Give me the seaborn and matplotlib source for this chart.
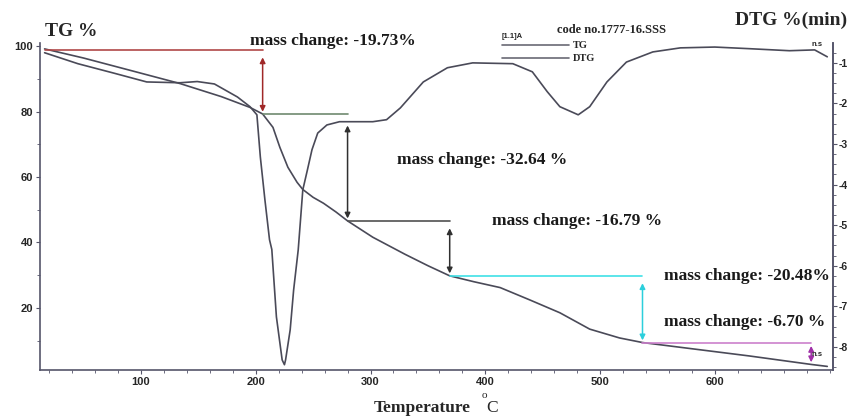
import matplotlib
matplotlib.use("Agg")
import matplotlib.pyplot as plt
from matplotlib.ticker import MultipleLocator
import seaborn as sns

# TG curve (mass %)
tg_temp = [16, 50, 91, 134, 170, 195, 206, 215, 221, 228, 236, 241, 250, 259, 270,
           280, 302, 330, 350, 369, 390, 413, 439, 465, 491, 517, 537, 580, 630, 684, 698]
tg_val = [99.2, 96.4, 92.6, 88.6, 84.6, 81.3, 79.3, 75.2, 69.1, 63.0, 58.4, 56.2, 53.8, 52.0, 49.3,
          46.6, 41.6, 36.4, 32.9, 29.8, 28.0, 26.2, 22.4, 18.5, 13.5, 10.8, 9.4, 7.5, 5.3, 2.7, 2.1]

# DTG curve (%/min)
dtg_temp = [16, 45, 76, 105, 134, 149, 164, 184, 195, 201, 204, 208, 212, 214, 218, 223, 225,
            226, 230, 233, 237, 241, 245, 249, 254, 262, 273, 288, 302, 314, 326, 346, 367, 389,
            424, 441, 454, 465, 481, 491, 506, 523, 546, 570, 600, 630, 665, 687, 698]
dtg_val = [-0.75, -1.02, -1.25, -1.47, -1.49, -1.46, -1.52, -1.84, -2.08, -2.28, -3.32, -4.38,
           -5.36, -5.6, -7.26, -8.32, -8.44, -8.32, -7.58, -6.60, -5.61, -4.13, -3.64, -3.14,
           -2.73, -2.53, -2.45, -2.45, -2.45, -2.40, -2.11, -1.47, -1.12, -1.0, -1.02, -1.22,
           -1.71, -2.08, -2.28, -2.08, -1.47, -0.98, -0.73, -0.63, -0.61, -0.65, -0.70, -0.68, -0.85]

# mass change steps: start temp, end temp, level before, level after
step_start = [16, 206, 280, 369, 537]
step_end = [206, 280, 369, 537, 684]
step_level = [99.0, 79.27, 46.63, 29.84, 9.36, 2.66]
step_label = ["mass change: -19.73%", "mass change: -32.64 %", "mass change: -16.79 %",
              "mass change: -20.48%", "mass change: -6.70 %"]
step_hline = ["#b04848", "#6f8a6f", "#505050", "#3fe0e6", "#cc80cc"]
step_arrow = ["#a02828", "#303030", "#303030", "#2ccfdc", "#a030a8"]
label_pos = [(195, 101.7), (323, 65.1), (406, 46.7), (556, 29.7), (556, 15.6)]

curve_col = "#4a4a58"
axis_col = "#55556a"

sns.set_style("ticks")
plt.rcParams["font.family"] = ["Liberation Serif", "DejaVu Serif"]
plt.rcParams["font.weight"] = "bold"
plt.rcParams["axes.unicode_minus"] = False

fig = plt.figure(figsize=(8.5, 4.18), dpi=100)
ax = fig.add_axes([40 / 850, 1 - 370 / 418, (833 - 40) / 850, (370 - 43) / 418])
ax2 = ax.twinx()

sns.lineplot(x=tg_temp, y=tg_val, ax=ax, color=curve_col, lw=1.2)
sns.lineplot(x=dtg_temp, y=dtg_val, ax=ax2, color=curve_col, lw=1.2)

ax.set_xlim(12, 703)
ax.set_ylim(1, 101)
ax2.set_ylim(-8.57, -0.51)
ax.set_xlabel("")
ax.set_ylabel("")
ax2.set_ylabel("")

ax.xaxis.set_minor_locator(MultipleLocator(20))
ax.yaxis.set_minor_locator(MultipleLocator(10))
ax2.yaxis.set_minor_locator(MultipleLocator(0.25))
ax.set_xticks([100, 200, 300, 400, 500, 600])
ax.set_yticks([20, 40, 60, 80, 100])
ax2.set_yticks([-1, -2, -3, -4, -5, -6, -7, -8])

for a in (ax, ax2):
    a.spines["top"].set_visible(False)
    for s in a.spines.values():
        s.set_color(axis_col)
        s.set_linewidth(1.2)
    a.tick_params(which="both", direction="out", color=axis_col, labelsize=8, pad=2)
    a.tick_params(which="major", length=3)
    a.tick_params(which="minor", length=2)
    for lab in a.get_xticklabels() + a.get_yticklabels():
        lab.set_family(["Liberation Sans", "DejaVu Sans"])
        lab.set_fontweight("bold")
ax2.spines["left"].set_visible(False)
ax2.spines["bottom"].set_visible(False)
ax2.tick_params(axis="y", labelsize=7.5, pad=1)

# mass change guides
top_gap = [2.4, 3.5, 2.3, 2.3, 1.0]
for i in range(len(step_start)):
    t0, t1 = step_start[i], step_end[i]
    hi, lo = step_level[i], step_level[i + 1]
    ax.plot([t0, t1], [hi, hi], color=step_hline[i], lw=1.2)
    ax.annotate("", xy=(t1, lo + 0.7), xytext=(t1, hi - top_gap[i]),
                arrowprops=dict(arrowstyle="<|-|>", color=step_arrow[i], lw=1.1,
                                mutation_scale=8, shrinkA=0, shrinkB=0))
    tx, ty = label_pos[i]
    ax.text(tx, ty, step_label[i], ha="left", va="center", fontsize=12.5,
            fontweight="bold", color="#1a1a1a", clip_on=False)

# legend block
leg = ax.legend(handles=[ax.lines[0], ax2.lines[0]], labels=["TG", "DTG"],
                loc="upper left", bbox_to_anchor=(502 / 850, 1 - 41 / 418),
                bbox_transform=fig.transFigure, frameon=False, handlelength=6.4,
                handletextpad=0.4, labelspacing=0.35, borderpad=0, borderaxespad=0,
                prop={"family": "Liberation Serif", "weight": "bold", "size": 7.5})
for h in leg.legend_handles:
    h.set_color("#6a6a74")
fig.text(502 / 850, 1 - 37 / 418, "[1.1]A", fontsize=5.5, fontweight="bold",
         family=["Liberation Sans", "DejaVu Sans"], va="center")
fig.text(557 / 850, 1 - 30 / 418, "code no.1777-16.SSS", fontsize=9, fontweight="bold",
         va="center")
fig.text(812 / 850, 1 - 45 / 418, "n.s", fontsize=5.5, va="center",
         family=["Liberation Sans", "DejaVu Sans"])
fig.text(812 / 850, 1 - 354 / 418, "n.s", fontsize=5.5, va="center",
         family=["Liberation Sans", "DejaVu Sans"])

# axis titles
fig.text(45 / 850, 1 - 32 / 418, "TG %", fontsize=14, fontweight="bold", va="center")
fig.text(735 / 850, 1 - 20 / 418, "DTG %(min)", fontsize=14, fontweight="bold", va="center")
fig.text(374 / 850, 1 - 408 / 418, "Temperature", fontsize=12.5, fontweight="bold", va="center")
fig.text(482 / 850, 1 - 398 / 418, "o", fontsize=8, fontweight="normal", va="baseline")
fig.text(486 / 850, 1 - 408 / 418, "C", fontsize=12.5, fontweight="normal", va="center")

fig.savefig("out.png", dpi=100)
